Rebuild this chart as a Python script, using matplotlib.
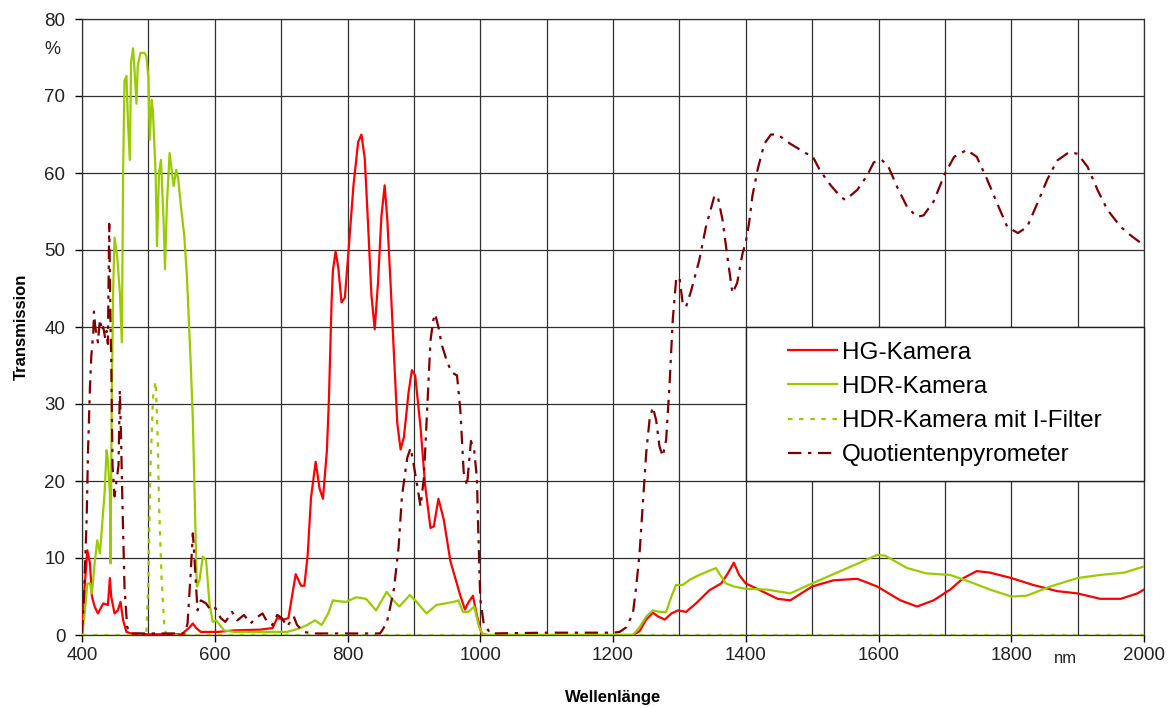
import numpy as np
import matplotlib
matplotlib.use("Agg")
import matplotlib.pyplot as plt
from matplotlib.patches import Rectangle

plt.rcParams['font.family'] = ['Liberation Sans', 'DejaVu Sans']

hg_kamera = [
    (400, 0.2), (404, 6.3), (408, 11), (412, 9.3), (415, 5), (419, 3.7), (424, 2.8), (432, 4.1),
    (439, 3.9), (442, 7.4), (444, 5), (449, 2.8), (454, 3.2), (458, 4.3), (462, 1.9), (467, 0.4),
    (474, 0.2), (500, 0.1), (550, 0.1), (561, 0.9), (567, 1.5), (572, 0.9), (579, 0.4), (605, 0.4),
    (629, 0.6), (669, 0.7), (687, 0.9), (694, 2.2), (704, 2.0), (711, 2.2), (715, 4.3), (722, 7.9),
    (730, 6.4), (735, 6.4), (740, 10.4), (745, 17.8), (752, 22.5), (758, 19), (763, 17.7), (769, 24),
    (772, 30.6), (776, 43.2), (778, 47.3), (782, 49.8), (786, 47.8), (791, 43.2), (796, 43.8),
    (801, 49.3), (809, 58.4), (816, 64), (821, 65), (826, 61.9), (831, 53.3), (836, 44.2),
    (841, 39.7), (846, 45.8), (851, 54.3), (856, 58.4), (860, 53.9), (865, 45.4), (870, 36.4),
    (875, 27.5), (880, 24.1), (885, 25.7), (892, 31.5), (897, 34.4), (902, 33.7), (910, 27),
    (917, 19.4), (925, 13.9), (930, 14.1), (937, 17.7), (945, 15), (955, 9.6), (970, 5.1),
    (977, 3.3), (982, 4.2), (989, 5.1), (995, 2.5), (1002, 0.2), (1010, 0), (1100, 0), (1200, 0),
    (1230, 0), (1240, 0.5), (1250, 2), (1260, 2.9), (1268, 2.4), (1278, 2), (1288, 2.8),
    (1298, 3.2), (1310, 3), (1325, 4.1), (1345, 5.8), (1363, 6.7), (1373, 8), (1382, 9.4),
    (1390, 7.8), (1400, 6.7), (1417, 6), (1448, 4.7), (1467, 4.5), (1500, 6.3), (1532, 7.1),
    (1568, 7.3), (1598, 6.3), (1633, 4.5), (1658, 3.7), (1683, 4.5), (1708, 5.9), (1728, 7.4),
    (1748, 8.3), (1768, 8.1), (1800, 7.4), (1833, 6.5), (1869, 5.7), (1900, 5.4), (1934, 4.7),
    (1965, 4.7), (1990, 5.4), (2000, 5.9),
]

hdr_kamera = [
    (400, 0), (404, 2.8), (408, 6.7), (412, 6.7), (415, 5.4), (419, 9.3), (423, 12.3), (427, 10.6),
    (430, 14), (434, 18.4), (437, 24), (439, 22.7), (442, 18.4), (443, 9.3), (445, 32), (447, 45),
    (449, 51.6), (453, 49.2), (457, 44.5), (460, 38), (462, 60.4), (464, 72), (467, 72.6),
    (469, 67.2), (472, 61.7), (474, 74.5), (477, 76.2), (479, 73.5), (482, 69), (484, 73.9),
    (488, 75.6), (494, 75.6), (497, 75.2), (500, 72.4), (502, 64.3), (505, 69.5), (507, 67.8),
    (511, 59.6), (513, 50.5), (516, 60), (519, 61.7), (523, 53.6), (525, 47.5), (528, 56.1),
    (532, 62.6), (535, 60.4), (538, 58.3), (542, 60.4), (545, 59.2), (549, 55.7), (554, 51.9),
    (558, 46.7), (561, 40.9), (564, 34.8), (567, 27.9), (569, 20.5), (571, 13.2), (573, 6.3),
    (577, 7.1), (582, 10.2), (587, 9.7), (592, 4.1), (597, 1.7), (602, 1.9), (614, 0.6),
    (629, 0.4), (697, 0.4), (709, 0.4), (729, 0.9), (739, 1.3), (751, 1.9), (761, 1.3),
    (771, 2.8), (778, 4.5), (786, 4.4), (798, 4.3), (813, 4.9), (828, 4.7), (843, 3.2),
    (859, 5.6), (869, 4.5), (878, 3.7), (894, 5.2), (904, 4.3), (919, 2.8), (934, 3.9),
    (960, 4.3), (967, 4.5), (974, 3), (982, 3), (991, 3.7), (998, 1.1), (1003, 0.2), (1010, 0),
    (1230, 0), (1240, 1), (1250, 2.4), (1260, 3.2), (1270, 3), (1280, 3), (1288, 5), (1295, 6.5),
    (1305, 6.5), (1316, 7.2), (1330, 7.8), (1355, 8.7), (1360, 8), (1370, 6.7), (1382, 6.3),
    (1400, 6.0), (1432, 5.9), (1467, 5.4), (1500, 6.7), (1548, 8.5), (1598, 10.4), (1610, 10.3),
    (1643, 8.7), (1672, 8), (1708, 7.8), (1738, 6.9), (1768, 5.9), (1800, 5), (1823, 5.1),
    (1859, 6.3), (1900, 7.4), (1934, 7.8), (1970, 8.1), (2000, 8.9),
]

hdr_i_filter = [
    (400, 0), (495, 0), (497, 0.2), (500, 7.1), (503, 21.4), (507, 30.9), (511, 32.9),
    (514, 25.8), (516, 17.1), (520, 7.1), (524, 1.1), (527, 0), (2000, 0),
]

quotient = [
    (400, 0.2), (403, 5), (407, 15), (409, 23.6), (412, 32.3), (414, 36.2), (417, 39.2),
    (418, 42), (420, 40), (422, 39), (424, 38), (427, 41), (430, 39.5), (432, 40), (435, 38.5),
    (437, 39.5), (439, 37.8), (441, 53.4), (443, 40), (444, 36), (446, 22), (449, 18), (452, 20),
    (455, 22), (457, 31.8), (459, 25), (461, 16.7), (464, 6.3), (468, 1.1), (472, 0.2),
    (555, 0.2), (559, 1.5), (564, 8.4), (567, 13.2), (569, 10.6), (572, 6.3), (574, 3.2),
    (579, 4.5), (587, 4.1), (594, 3.2), (601, 3.5), (609, 2.2), (616, 1.7), (626, 3), (634, 1.9),
    (644, 2.6), (654, 1.5), (662, 2.2), (672, 2.8), (679, 1.7), (687, 1.3), (694, 2.6),
    (701, 2.2), (709, 1.1), (719, 2.4), (724, 1.3), (734, 0.4), (749, 0.2), (849, 0.2),
    (859, 1.5), (864, 3.5), (870, 6), (877, 11.4), (882, 18), (890, 23), (895, 24.3), (900, 22),
    (905, 19.4), (910, 16.7), (915, 20.3), (920, 29.2), (925, 38.2), (929, 40.8), (932, 41.7),
    (937, 40), (942, 37.7), (950, 35.5), (957, 34.1), (965, 33.7), (970, 29.2), (975, 21.2),
    (980, 19.4), (986, 25.2), (991, 23.9), (995, 20.3), (997, 13.6), (1000, 4.7), (1005, 1.6),
    (1015, 0.2), (1100, 0.3), (1200, 0.3), (1210, 0.4), (1220, 1), (1230, 2.8), (1235, 6.3),
    (1240, 10.6), (1245, 17), (1250, 23.6), (1255, 27.9), (1260, 29.6), (1265, 27.9),
    (1270, 24.5), (1275, 23.2), (1280, 25.3), (1285, 32.2), (1290, 40.9), (1295, 46.1),
    (1300, 46.5), (1305, 43.1), (1310, 42.6), (1318, 44.8), (1330, 48.7), (1340, 53),
    (1353, 57.1), (1358, 56.9), (1365, 53.9), (1373, 48.7), (1380, 44.4), (1387, 45.7),
    (1395, 49.5), (1400, 51), (1405, 53.5), (1410, 57), (1418, 60.5), (1428, 63.8), (1438, 65),
    (1448, 65), (1467, 63.8), (1492, 62.5), (1500, 62.3), (1512, 60.3), (1528, 58.4),
    (1543, 56.9), (1550, 56.5), (1568, 57.8), (1583, 59.7), (1593, 61.4), (1605, 61.7),
    (1615, 60.8), (1628, 58.2), (1643, 55.6), (1658, 54.3), (1668, 54.5), (1683, 56.3),
    (1700, 59.9), (1714, 62.1), (1733, 63), (1748, 62.1), (1764, 59.1), (1779, 56), (1794, 53),
    (1810, 52.2), (1824, 53), (1839, 56), (1854, 59.1), (1869, 61.6), (1887, 62.7), (1900, 62.5),
    (1915, 60.8), (1930, 57.8), (1945, 55.2), (1965, 53), (1980, 51.9), (2000, 50.6),
]

labels = ['HG-Kamera', 'HDR-Kamera', 'HDR-Kamera mit I-Filter', 'Quotientenpyrometer']
x_ticks = list(range(400, 2001, 200))
y_ticks = list(range(0, 81, 10))

fig = plt.figure(figsize=(11.73, 7.08), dpi=100)
ax = fig.add_axes([82 / 1173, 1 - 635 / 708, (1144 - 82) / 1173, (635 - 19) / 708])

styles = [
    (hg_kamera, '#FF0000', '-'),
    (hdr_kamera, '#99CC00', '-'),
    (hdr_i_filter, '#99CC00', (0, (2, 3))),
    (quotient, '#800000', (0, (6, 3, 1.5, 3))),
]
for (data, color, ls), lab in zip(styles, labels):
    wl, tr = np.array(data).T
    ax.plot(wl, tr, color=color, lw=1.6, ls=ls, label=lab, zorder=3)

ax.set_xlim(400, 2000)
ax.set_ylim(0, 80)
ax.set_xticks(x_ticks)
ax.set_xticks(range(400, 2001, 100), minor=True)
ax.set_yticks(y_ticks)
ax.xaxis.grid(True, which='both', color='#303030', lw=0.9)
ax.yaxis.grid(True, which='major', color='#303030', lw=0.9)
ax.set_axisbelow(True)
ax.tick_params(which='major', direction='out', length=5, width=1, labelsize=13.5,
               colors='black', labelcolor='#222222')
ax.tick_params(axis='x', pad=4)
ax.tick_params(axis='y', pad=7)
ax.tick_params(which='minor', length=0)
for sp in ax.spines.values():
    sp.set_color('#303030')
    sp.set_linewidth(0.9)

ax.set_xlabel('Wellenlänge', fontsize=12, fontweight='bold')
ax.set_ylabel('Transmission', fontsize=12, fontweight='bold')
ax.xaxis.set_label_coords(0.5, -0.09)
ax.yaxis.set_label_coords(-0.05, 0.5)

ax.text(356, 76, '%', ha='center', va='center', fontsize=13, color='#222222', clip_on=False)
ax.text(1882, -3.0, 'nm', ha='center', va='center', fontsize=12, color='#222222', clip_on=False)

# Legendenkasten genau über dem Raster 1400-2000 nm / 20-40 %
ax.add_patch(Rectangle((1400, 20), 600, 20, facecolor='white', edgecolor='#202020',
                       lw=1.0, zorder=4, clip_on=False))
leg = ax.legend(loc='center', bbox_to_anchor=(0.8125, 0.375), frameon=False, fontsize=17.5,
                handlelength=2.0, handletextpad=0.2, labelspacing=0.5)
leg.set_zorder(5)

fig.savefig('out.png', dpi=100)
